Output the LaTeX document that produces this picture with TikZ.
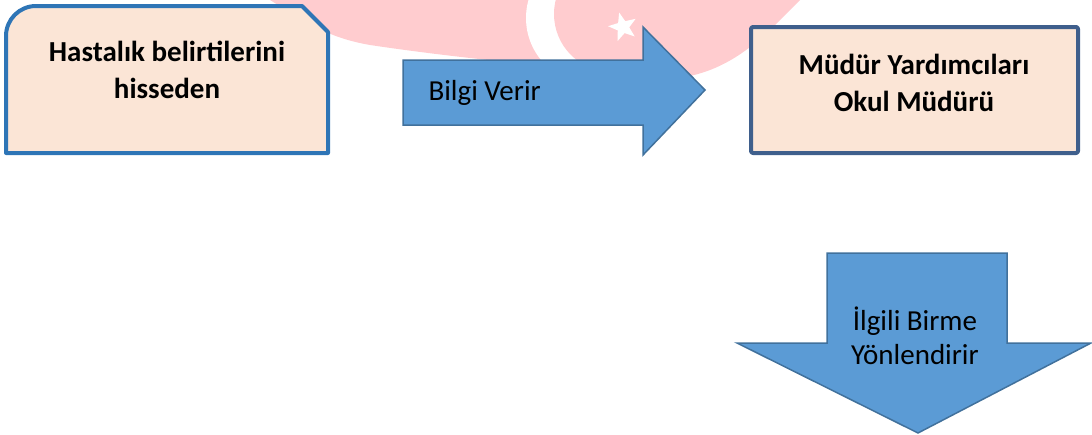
\documentclass[tikz,border=0pt]{standalone}
\usepackage{fontspec}
\setmainfont{Carlito}
\usetikzlibrary{shapes.geometric}
\definecolor{flagpink}{HTML}{FFCCCF}
\definecolor{boxfill}{HTML}{FBE5D6}
\definecolor{boxoneline}{HTML}{2E75B6}
\definecolor{boxtwoline}{HTML}{3F5F8C}
\definecolor{arrowfill}{HTML}{5B9BD5}
\definecolor{arrowline}{HTML}{41719C}
\begin{document}
\begin{tikzpicture}[x=1pt,y=-1pt,
  boxshape/.style={fill=boxfill,line width=4pt,line join=round},
  arrowshape/.style={fill=arrowfill,draw=arrowline,line width=1.5pt,line join=miter},
  boldtext/.style={font=\fontsize{29}{37}\selectfont\bfseries,align=center,text=black},
  plaintext/.style={font=\fontsize{29}{34}\selectfont,align=center,text=black}]
\useasboundingbox (0,0) rectangle (1092,434);
% watermark flag
\begin{scope}
  \clip (270,0) .. controls (310,25) and (330,38) .. (370,45)
        .. controls (470,60) and (600,72) .. (690,76)
        .. controls (740,65) and (770,30) .. (800,0) -- cycle;
  \fill[flagpink] (260,0) rectangle (810,90);
  \fill[white] (592,18) circle[radius=66];
  \fill[flagpink] (612,14) circle[radius=58];
  \node[star,star points=5,star point ratio=2.4,fill=white,minimum size=30pt,inner sep=0pt,rotate=15] (flagstar) at (623,27) {};
\end{scope}
% box 1
\draw[boxshape,draw=boxoneline] (6,153) [rounded corners=30pt] -- (6,6) [sharp corners] -- (302,6)
  -- (328,32) -- (328,153) -- cycle;
\node[boldtext] (t1) at (167,70) {Hastalık belirtilerini\\hisseden};
% arrow 1
\draw[arrowshape] (403,60) -- (643,60) -- (643,27) -- (705,90) -- (643,155) -- (643,125) -- (403,125) -- cycle;
\node[plaintext,anchor=base west] (t2) at (425,100) {Bilgi Verir};
% box 2
\draw[boxshape,draw=boxtwoline,rounded corners=2pt] (751,27) rectangle (1078,153);
\node[boldtext] (t3) at (914,83) {Müdür Yardımcıları\\Okul Müdürü};
% arrow 2
\draw[arrowshape] (827,253) -- (1007,253) -- (1007,343) -- (1091,343) -- (918,433) -- (737,343) -- (827,343) -- cycle;
\node[plaintext,align=center] (t4) at (915,336) {İlgili Birme\\Yönlendirir};
\end{tikzpicture}
\end{document}
